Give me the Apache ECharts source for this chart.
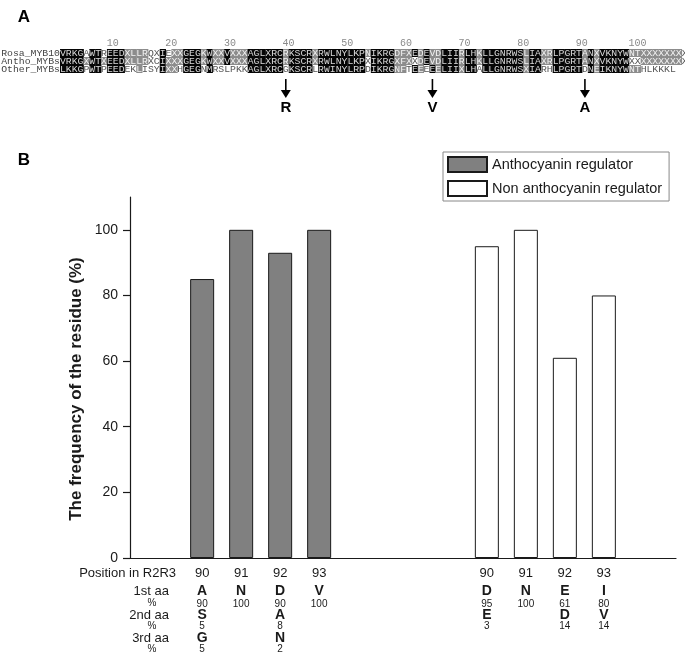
<!DOCTYPE html>
<html>
  <head>
    <meta charset="utf-8" />
    <title>R2R3 residue frequency</title>
    <script src="https://cdn.jsdelivr.net/npm/echarts@6/dist/echarts.min.js"></script>
    <style>
      html, body { margin: 0; padding: 0; background: #fff; }
      #main { width: 685px; height: 654px; }
    </style>
  </head>
  <body>
    <div id="main"></div>
    <script type="text/javascript">
      // ---- panel A: alignment ----
      var seqNames = ['Rosa_MYB10', 'Antho_MYBs', 'Other_MYBs'];
      var seqRosa  = 'VRKGAWTREEDXLLRQXIEXXGEGKWXXVXXXAGLXRCRKSCRXRWLNYLKPNIKRGDFXEDEVDLIIRLHKLLGNRWSLIAXRLPGRTANXVKNYWNTXXXXXXXX';
      var seqAntho = 'VRKGXWTXEEDXLLRXCIXXXGEGKWXXVXXXAGLXRCRKSCRXRWLNYLKPXIKRGXFXXDEVDLIIRLHKLLGNRWSLIAXRLPGRTANXVKNYWXXXXXXXXXX';
      var seqOther = 'LKKGPWTPEEDEKLISYIXXHGEGNMRSLPKKAGLXRCGKSCRLRWINYLRPDIKRGNFTEEEEELIIXLHALLGNRWSXIARHLPGRTDNEIKNYWNTHLKKKL';
      // k = black, g = grey, w = unshaded
      var shadeRosa  = 'kkkkwkkwkkkggggwwkwggkkkgkggkgggkkkkkkgkkkkgkkkkkkkkgkkkkgggkgkggkkkgkkgkkkkkkkgkkggkkkkkgkgkkkkkggggggggg';
      var shadeAntho = 'kkkkgkkgkkkggggwwkgggkkkgkggkgggkkkkkkgkkkkgkkkkkkkkwkkkkgggwgkggkkkgkkgkkkkkkkgkkggkkkkkgkgkkkkkwwggggggg';
      var shadeOther = 'kkkkwkkwkkkwwgwwwkggwkkkwkwwwwwwkkkkkkwkkkkwkkkkkkkkwkkkkggwkgwkgkkkgkkwkkkkkkkgkkwwkkkkkwkgkkkkkggwwwwww';
      var arrowSites = [39, 64, 90];
      var arrowLetters = ['R', 'V', 'A'];

      // ---- panel B: residue frequency ----
      var positions = ['90', '91', '92', '93'];
      var anthoFreq = [85, 100, 93, 100];
      var nonAnthoFreq = [95, 100, 61, 80];
      var antho1stAA = ['A', 'N', 'D', 'V'];
      var antho1stPct = [90, 100, 90, 100];
      var antho2ndAA = ['S', '', 'A', ''];
      var antho2ndPct = [5, null, 8, null];
      var antho3rdAA = ['G', '', 'N', ''];
      var antho3rdPct = [5, null, 2, null];
      var non1stAA = ['D', 'N', 'E', 'I'];
      var non1stPct = [95, 100, 61, 80];
      var non2ndAA = ['E', '', 'D', 'V'];
      var non2ndPct = [3, null, 14, 14];
      var yTicks = [0, 20, 40, 60, 80, 100];

      var seqLen = 107;
      var ink = '#1a1a1a';
      var shadeFill = { k: '#050505', g: '#8c8c8c', w: null };
      var shadeText = { k: '#d8d8d8', g: '#f2f2f2', w: '#555' };

      var rows = [[seqRosa, shadeRosa], [seqAntho, shadeAntho], [seqOther, shadeOther]];
      var cells = [];
      rows.forEach(function (r, ri) {
        for (var c = 0; c < Math.min(r[0].length, seqLen); c++) {
          cells.push({ col: c, row: ri, ch: r[0][c], shade: r[1][c] || 'w' });
        }
      });

      function renderCell(params, api) {
        var cell = cells[params.dataIndex];
        var p = api.coord([cell.col, cell.row]);
        var s = api.size([1, 1]);
        var kids = [];
        if (shadeFill[cell.shade]) {
          kids.push({
            type: 'rect',
            shape: { x: p[0], y: p[1] - s[1] / 2, width: s[0] + 0.4, height: s[1] },
            style: { fill: shadeFill[cell.shade] }
          });
        }
        kids.push({
          type: 'text',
          style: {
            text: cell.ch, x: p[0] + s[0] / 2, y: p[1] + 0.5,
            align: 'center', verticalAlign: 'middle',
            fill: shadeText[cell.shade], font: '9.8px "Liberation Mono"'
          }
        });
        return { type: 'group', children: kids };
      }

      function renderArrow(params, api) {
        var site = arrowSites[params.dataIndex];
        var x = api.coord([site - 0.5, 0])[0];
        return {
          type: 'group',
          children: [
            { type: 'line', shape: { x1: x, y1: 79, x2: x, y2: 91 }, style: { stroke: '#000', lineWidth: 1.6 } },
            { type: 'polygon', shape: { points: [[x - 5, 90], [x + 5, 90], [x, 98]] }, style: { fill: '#000' } },
            { type: 'text', style: { text: arrowLetters[params.dataIndex], x: x, y: 108, align: 'center', verticalAlign: 'middle', font: 'bold 15px "Liberation Sans"', fill: '#000' } }
          ]
        };
      }

      function columnLabel(i, aa1, p1, aa2, p2, aa3, p3) {
        var lines = ['{pos|' + positions[i] + '}', '{a1|' + aa1[i] + '}', '{p1|' + p1[i] + '}'];
        if (aa2 && aa2[i]) {
          lines.push('{a2|' + aa2[i] + '}', '{p2|' + p2[i] + '}');
          if (aa3 && aa3[i]) lines.push('{a3|' + aa3[i] + '}', '{p3|' + p3[i] + '}');
        }
        return lines.join('\n');
      }

      var labelRich = {
        pos: { fontSize: 13, lineHeight: 20, color: ink },
        a1: { fontSize: 14, fontWeight: 'bold', lineHeight: 16, color: ink },
        p1: { fontSize: 10, lineHeight: 10, color: ink },
        a2: { fontSize: 14, fontWeight: 'bold', lineHeight: 12, color: ink },
        p2: { fontSize: 10, lineHeight: 11, color: ink },
        a3: { fontSize: 14, fontWeight: 'bold', lineHeight: 12, color: ink },
        p3: { fontSize: 10, lineHeight: 11, color: ink }
      };

      var anthoStart = 1.85;
      var nonStart = 9.15;

      var myChart = echarts.init(document.getElementById('main'), null, { renderer: 'canvas' });

      var headerTexts = [
        ['Position in R2R3', 176, 573, 13, 'right'],
        ['1st aa', 169, 591, 13, 'right'],
        ['%', 152, 603, 10, 'center'],
        ['2nd aa', 169, 615, 13, 'right'],
        ['%', 152, 626, 10, 'center'],
        ['3rd aa', 169, 638, 13, 'right'],
        ['%', 152, 649, 10, 'center']
      ];

      var graphics = headerTexts.map(function (h) {
        return {
          type: 'text', x: h[1], y: h[2],
          style: { text: h[0], align: h[4], verticalAlign: 'middle', font: h[3] + 'px "Liberation Sans"', fill: ink }
        };
      });
      graphics.push(
        { type: 'text', x: 24, y: 17, style: { text: 'A', align: 'center', verticalAlign: 'middle', font: 'bold 17px "Liberation Sans"', fill: '#000' } },
        { type: 'text', x: 24, y: 160, style: { text: 'B', align: 'center', verticalAlign: 'middle', font: 'bold 17px "Liberation Sans"', fill: '#000' } },
        { type: 'text', x: 76, y: 389, rotation: Math.PI / 2,
          style: { text: 'The frequency of the residue (%)', align: 'center', verticalAlign: 'middle', font: 'bold 17px "Liberation Sans"', fill: ink } }
      );

      var option = {
        animation: false,
        textStyle: { fontFamily: 'Liberation Sans' },
        graphic: graphics,
        legend: {
          orient: 'vertical',
          left: 443, top: 152,
          padding: [4, 7, 4, 4],
          itemGap: 7,
          itemWidth: 39, itemHeight: 15,
          icon: 'rect',
          selectedMode: false,
          borderColor: '#888', borderWidth: 1, borderRadius: 0,
          textStyle: { fontSize: 14.5, color: ink, fontFamily: 'Liberation Sans' },
          data: ['Anthocyanin regulator', 'Non anthocyanin regulator']
        },
        grid: [
          { left: 130, top: 197, width: 546, height: 361, containLabel: false, outerBoundsMode: 'none' },
          { left: 60, top: 49, width: seqLen * 5.865, height: 24, containLabel: false, outerBoundsMode: 'none' }
        ],
        xAxis: [
          {
            type: 'value', gridIndex: 0, min: 0, max: 14,
            axisLine: { show: true, lineStyle: { color: ink, width: 1.2 } },
            axisTick: { show: false }, axisLabel: { show: false }, splitLine: { show: false }
          },
          {
            type: 'value', gridIndex: 1, min: 0, max: seqLen, interval: 10, position: 'top',
            axisLine: { show: false }, axisTick: { show: false }, splitLine: { show: false },
            axisLabel: {
              margin: 1, align: 'right', color: '#8a8a8a', fontSize: 10, fontFamily: 'Liberation Mono',
              formatter: function (v) { return (v > 0 && v <= 100) ? String(v) : ''; }
            }
          }
        ],
        yAxis: [
          {
            type: 'value', gridIndex: 0, min: 0, max: 110, interval: 20,
            axisLine: { show: true, lineStyle: { color: ink, width: 1.2 } },
            axisTick: { show: true, length: 7, lineStyle: { color: ink, width: 1.2 }, customValues: yTicks },
            axisLabel: { margin: 12, fontSize: 14, color: ink, customValues: yTicks },
            splitLine: { show: false }
          },
          {
            type: 'category', gridIndex: 1, inverse: true, data: seqNames,
            axisLine: { show: false }, axisTick: { show: false }, splitLine: { show: false },
            axisLabel: { interval: 0, hideOverlap: false, margin: 0, fontSize: 9.8, fontFamily: 'Liberation Mono', color: '#444' }
          }
        ],
        series: [
          {
            name: 'Anthocyanin regulator', type: 'bar', xAxisIndex: 0, yAxisIndex: 0,
            barWidth: 24, barGap: '-100%',
            itemStyle: { color: '#808080', borderColor: ink, borderWidth: 1 },
            data: anthoFreq.map(function (v, i) { return [anthoStart + i, v]; }),
            label: {
              show: true, position: 'bottom', distance: 5, rich: labelRich,
              formatter: function (p) {
                return columnLabel(p.dataIndex, antho1stAA, antho1stPct, antho2ndAA, antho2ndPct, antho3rdAA, antho3rdPct);
              }
            }
          },
          {
            name: 'Non anthocyanin regulator', type: 'bar', xAxisIndex: 0, yAxisIndex: 0,
            barWidth: 24, barGap: '-100%',
            itemStyle: { color: '#ffffff', borderColor: ink, borderWidth: 1 },
            data: nonAnthoFreq.map(function (v, i) { return [nonStart + i, v]; }),
            label: {
              show: true, position: 'bottom', distance: 5, rich: labelRich,
              formatter: function (p) {
                return columnLabel(p.dataIndex, non1stAA, non1stPct, non2ndAA, non2ndPct);
              }
            }
          },
          {
            type: 'custom', xAxisIndex: 1, yAxisIndex: 1,
            renderItem: renderCell,
            encode: { x: 0, y: 1 },
            data: cells.map(function (c) { return [c.col, c.row]; })
          },
          {
            type: 'custom', xAxisIndex: 1, yAxisIndex: 1,
            renderItem: renderArrow,
            encode: { x: 0, y: 1 },
            data: arrowSites.map(function (s) { return [s, 0]; })
          }
        ]
      };

      myChart.setOption(option);
    </script>
  </body>
</html>
